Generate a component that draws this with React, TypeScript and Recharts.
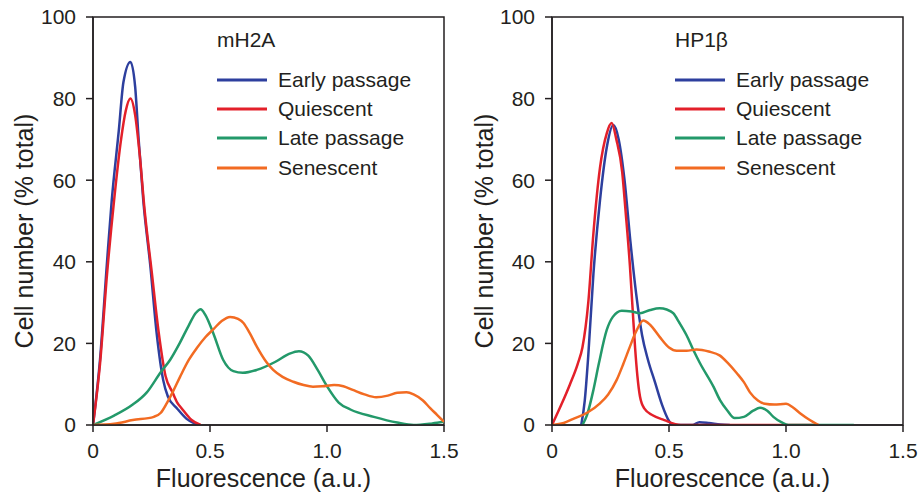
import React from 'react';
import { LineChart, Line, XAxis, YAxis, ReferenceArea } from 'recharts';

// ---------- mH2A panel ----------
const mh2aEarlyX = [0, 0.03, 0.06, 0.08, 0.11, 0.13, 0.16, 0.18, 0.195, 0.215, 0.245, 0.272, 0.3, 0.32, 0.36, 0.4, 0.45];
const mh2aEarlyY = [0, 16, 40, 55, 72, 84, 89, 83, 70, 55, 39, 22.5, 11, 7, 4, 1.5, 0];

const mh2aQuiescentX = [0, 0.03, 0.06, 0.09, 0.12, 0.14, 0.16, 0.18, 0.2, 0.22, 0.25, 0.28, 0.31, 0.34, 0.36, 0.38, 0.42, 0.46];
const mh2aQuiescentY = [0, 15, 37, 55, 70, 77, 80, 76, 66, 53, 38, 23, 12, 8, 5.5, 4, 1.3, 0];

const mh2aLateX = [0, 0.09, 0.17, 0.23, 0.29, 0.33, 0.37, 0.41, 0.44, 0.46, 0.48, 0.514, 0.556, 0.6, 0.64, 0.7, 0.78, 0.84, 0.88, 0.92, 0.96, 1.0, 1.05, 1.1, 1.2, 1.3, 1.37, 1.45, 1.5];
const mh2aLateY = [0, 2.3, 5, 8, 13, 16, 20, 24.5, 27.5, 28.4, 27, 22.5, 16, 13.2, 12.8, 13.5, 15.5, 17.5, 18.1, 17, 13.5, 9.5, 5.5, 3.8, 2, 0.6, 0, 0.4, 0.8];

const mh2aSenescentX = [0, 0.09, 0.17, 0.26, 0.29, 0.315, 0.34, 0.372, 0.41, 0.443, 0.48, 0.515, 0.55, 0.586, 0.62, 0.643, 0.67, 0.7, 0.74, 0.77, 0.81, 0.856, 0.9, 0.94, 0.98, 1.03, 1.07, 1.11, 1.16, 1.21, 1.26, 1.3, 1.34, 1.37, 1.41, 1.44, 1.47, 1.5];
const mh2aSenescentY = [0, 0.3, 1.2, 2, 3, 5.3, 8, 11.8, 16, 18.8, 21.5, 23.5, 25.5, 26.5, 26, 25, 22.5, 19.2, 15.5, 13.5, 11.8, 10.6, 9.8, 9.4, 9.5, 9.8, 9.5, 8.6, 7.5, 6.8, 7.2, 7.9, 8, 7.5, 6, 4.2, 2.5, 0.8];

// ---------- HP1β panel ----------
const hp1EarlyX = [0.125, 0.14, 0.155, 0.177, 0.205, 0.234, 0.262, 0.285, 0.31, 0.335, 0.36, 0.385, 0.41, 0.44, 0.47, 0.5, 0.515, 0.6, 0.63, 0.67, 0.72, 0.76];
const hp1EarlyY = [0, 6, 17, 37, 55, 68, 73.5, 70, 60, 45, 32, 22, 16, 10.5, 5, 1, 0, 0, 0.7, 0.5, 0.1, 0];

const hp1QuiescentX = [0, 0.04, 0.077, 0.11, 0.13, 0.155, 0.177, 0.205, 0.234, 0.255, 0.275, 0.3, 0.315, 0.333, 0.345, 0.355, 0.365, 0.376, 0.395, 0.43, 0.48, 0.55, 1.12];
const hp1QuiescentY = [0, 5, 10, 15, 19, 30, 47, 63, 71.5, 74, 70, 62, 52, 39, 28, 19, 12, 7, 4, 2.4, 1.2, 0, 0];

const hp1LateX = [0.13, 0.15, 0.177, 0.2, 0.234, 0.26, 0.298, 0.34, 0.376, 0.42, 0.46, 0.49, 0.518, 0.545, 0.575, 0.604, 0.632, 0.69, 0.718, 0.75, 0.78, 0.82, 0.86, 0.889, 0.92, 0.946, 0.98, 1.01, 1.29];
const hp1LateY = [0, 2.5, 8.6, 15, 23.3, 26.5, 28, 27.8, 27.4, 28.2, 28.6, 28.3, 27.4, 25, 22, 18.4, 15.2, 9.4, 6.1, 3.5, 1.7, 2, 3.5, 4.2, 3.5, 2, 0.7, 0, 0];

const hp1SenescentX = [0, 0.05, 0.091, 0.15, 0.205, 0.24, 0.276, 0.305, 0.333, 0.36, 0.39, 0.42, 0.46, 0.5, 0.533, 0.575, 0.618, 0.67, 0.718, 0.75, 0.79, 0.82, 0.846, 0.88, 0.91, 0.95, 1.0, 1.03, 1.06, 1.1, 1.14];
const hp1SenescentY = [0, 0.5, 1.5, 3, 5.3, 7.5, 11, 15, 19.2, 23, 25.6, 24.5, 21.6, 19, 18.2, 18.2, 18.5, 18, 17, 15.3, 12.7, 10.5, 8, 6, 5.2, 5, 5.2, 4.3, 2.9, 1.3, 0];

// ---------- axes / legend ----------
const xTicks = [0, 0.5, 1.0, 1.5];
const yTicks = [0, 20, 40, 60, 80, 100];
const seriesNames = ['Early passage', 'Quiescent', 'Late passage', 'Senescent'];
const seriesColors = ['#2d3f9e', '#e3202a', '#23996a', '#f26b22'];

const zip = (xs: number[], ys: number[]) => xs.map((x, i) => ({ x, y: ys[i] }));

const FONT = '"Liberation Sans", Arial, Helvetica, sans-serif';
const INK = '#231f20';

type PanelProps = {
  title: string;
  series: { xs: number[]; ys: number[] }[];
  marginLeft: number;
  legendLeft: number;
};

const Panel = ({ title, series, marginLeft, legendLeft }: PanelProps) => {
  const W = 460;
  const H = 502;

  const yTitle = (props: any) => {
    const vb = props.viewBox || { x: 0, y: 17, width: marginLeft, height: 408 };
    const cx = vb.x + 33;
    const cy = vb.y + vb.height / 2 + 10;
    return (
      <text x={cx} y={cy} transform={`rotate(-90, ${cx}, ${cy})`} textAnchor="middle" fontSize={25} fontFamily={FONT} fill={INK}>
        Cell number (% total)
      </text>
    );
  };

  const xTitle = (props: any) => {
    const vb = props.viewBox || { x: marginLeft, y: 425, width: 351, height: 77 };
    const cx = vb.x + vb.width / 2 - 5;
    const cy = vb.y + 62;
    return (
      <text x={cx} y={cy} textAnchor="middle" fontSize={25} fontFamily={FONT} fill={INK}>
        Fluorescence (a.u.)
      </text>
    );
  };

  return (
    <div style={{ position: 'relative', width: W, height: H }}>
      <LineChart width={W} height={H} margin={{ top: 17, right: W - marginLeft - 351, bottom: 0, left: 0 }}>
        <XAxis
          dataKey="x"
          type="number"
          domain={[0, 1.5]}
          ticks={xTicks}
          allowDataOverflow
          tickFormatter={(v: number) => (v === 0 ? '0' : v.toFixed(1))}
          tick={{ fontSize: 21, fill: INK, fontFamily: FONT }}
          tickSize={7}
          tickMargin={11}
          height={77}
          axisLine={{ stroke: INK, strokeWidth: 1.5 }}
          tickLine={{ stroke: INK, strokeWidth: 1.5 }}
          label={{ content: xTitle }}
        />
        <YAxis
          type="number"
          domain={[0, 100]}
          ticks={yTicks}
          allowDataOverflow
          width={marginLeft}
          tick={{ fontSize: 21, fill: INK, fontFamily: FONT }}
          tickSize={7}
          tickMargin={10}
          axisLine={{ stroke: INK, strokeWidth: 1.5 }}
          tickLine={{ stroke: INK, strokeWidth: 1.5 }}
          label={{ content: yTitle }}
        />
        <ReferenceArea x1={0} x2={1.5} y1={0} y2={100} fill="none" stroke={INK} strokeWidth={1.5} ifOverflow="visible" />
        {series.map((s, i) => (
          <Line
            key={seriesNames[i]}
            name={seriesNames[i]}
            data={zip(s.xs, s.ys)}
            dataKey="y"
            type="monotone"
            stroke={seriesColors[i]}
            strokeWidth={2.5}
            dot={false}
            activeDot={false}
            isAnimationActive={false}
          />
        ))}
      </LineChart>
      <div style={{ position: 'absolute', top: 28, left: legendLeft, fontFamily: FONT, color: INK, pointerEvents: 'none' }}>
        <div style={{ height: 37, fontSize: 21, lineHeight: '24px' }}>{title}</div>
        {seriesNames.map((name, i) => (
          <div key={name} style={{ display: 'flex', alignItems: 'center', height: 29.3 }}>
            <svg width={50} height={6} style={{ display: 'block' }}>
              <line x1={0} y1={3} x2={50} y2={3} stroke={seriesColors[i]} strokeWidth={3} />
            </svg>
            <span style={{ marginLeft: 11, fontSize: 21, lineHeight: '24px', whiteSpace: 'nowrap' }}>{name}</span>
          </div>
        ))}
      </div>
    </div>
  );
}

export default function App() {
  return (
    <div style={{ position: 'absolute', left: 0, top: 0, width: 920, height: 502, display: 'flex', background: '#fff' }}>
      <Panel
        title="mH2A"
        marginLeft={93}
        legendLeft={217}
        series={[
          { xs: mh2aEarlyX, ys: mh2aEarlyY },
          { xs: mh2aQuiescentX, ys: mh2aQuiescentY },
          { xs: mh2aLateX, ys: mh2aLateY },
          { xs: mh2aSenescentX, ys: mh2aSenescentY },
        ]}
      />
      <Panel
        title="HP1β"
        marginLeft={92}
        legendLeft={215}
        series={[
          { xs: hp1EarlyX, ys: hp1EarlyY },
          { xs: hp1QuiescentX, ys: hp1QuiescentY },
          { xs: hp1LateX, ys: hp1LateY },
          { xs: hp1SenescentX, ys: hp1SenescentY },
        ]}
      />
    </div>
  );
}
